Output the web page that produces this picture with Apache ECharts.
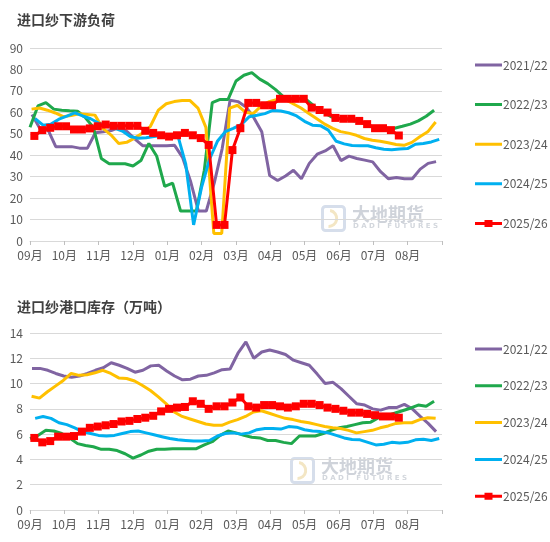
<!DOCTYPE html>
<html>
<head>
<meta charset="utf-8">
<script src="https://cdn.jsdelivr.net/npm/echarts@6/dist/echarts.min.js"></script>
<style>
  html, body { margin: 0; padding: 0; background: #fff; }
  #loadChart { position: absolute; left: 0; top: 0; width: 550px; height: 280px; }
  #stockChart { position: absolute; left: 0; top: 280px; width: 550px; height: 262px; }
</style>
</head>
<body>
<div id="loadChart"></div>
<div id="stockChart"></div>
<script>
// 季度名称与x轴月份标签
const seasons = ['2021/22', '2022/23', '2023/24', '2024/25', '2025/26'];
const monthLabels = ['09月', '10月', '11月', '12月', '01月', '02月', '03月', '04月', '05月', '06月', '07月', '08月'];
// 每个季度第一条周数据相对9月初的周数
const startWeek = [0.25, 0, 0.2, 0.65, 0.55];

// 进口纱下游负荷（周度）
const load2122 = [59, 52.5, 52, 44, 44, 44, 43.3, 43.3, 50.5, 50.9, 51.5, 53, 51, 47.5, 44.4, 44.4, 44.4, 44.4, 44.6, 39,
  28, 14, 14, 27, 43, 65.6, 65, 62.5, 57.5, 50.9, 30.5, 28.2, 30.3, 33, 29, 36.2, 40.5, 42, 44.4, 37.5,
  39.6, 38.5, 37.7, 36.9, 32.3, 29, 29.6, 29, 29, 33.5, 36.2, 37];
const load2223 = [53, 63, 64.5, 61.5, 61, 60.7, 60.5, 57.5, 53, 38.5, 36, 36, 36, 35, 37.5, 45.5, 39.5, 25.5, 27, 14,
  14, 14, 33, 64.5, 66, 66, 74.6, 77.3, 78.5, 75.5, 73.4, 70.6, 67.2, 66.3, 66.3, 65.6, 62.5, 60.2, 57.9, 57,
  56.6, 56, 55, 53.5, 52.5, 52.5, 52.6, 53.5, 54.5, 56, 58.2, 61];
const load2324 = [61.5, 62, 61, 59.7, 58, 58.5, 59.3, 59, 58.7, 52.5, 49.5, 45.5, 46, 48, 50.3, 53.5, 61, 64, 65, 65.5,
  65.5, 62, 53, 3.5, 3.5, 62, 63.3, 60, 59.5, 63, 65, 66, 66, 64, 62, 59.5, 57, 54.5, 52.5, 51,
  50.3, 49.3, 47.8, 47, 46.5, 45.8, 45, 44.6, 46, 48.6, 50.9, 55.5];
const load2425 = [57, 54, 54.5, 56.8, 58.2, 59.8, 58.3, 57, 55, 53.7, 52.7, 51.3, 48.7, 47.9, 48.1, 48.7, 49.2, 49.3, 49.3, 36,
  7.5, 25, 38, 46.5, 51, 52.5, 54.3, 57.9, 58.6, 59.4, 60.9, 60.6, 59.8, 58.3, 55.8, 54, 53.8, 51.7, 46.5, 45.3,
  44.5, 44.4, 44.4, 43.5, 42.8, 42.5, 42.9, 43.1, 45.1, 45.5, 46.2, 47.4];
const load2526 = [49, 51.7, 52.8, 53.5, 53.5, 52, 52, 52.5, 53.5, 54.3, 53.7, 53.7, 53.7, 53.7, 51.4, 50.4, 49.3, 48.7, 49.3, 50.4,
  49.3, 48, 44.8, 7.5, 7.5, 42.4, 52.6, 64.4, 64.4, 63.3, 63.3, 66.3, 66.3, 66.3, 66.3, 62.2, 61.1, 59.9, 57.4, 57,
  57, 56, 54.5, 52.6, 52.6, 51.7, 49.2];

// 进口纱港口库存（万吨，周度）
const stock2122 = [11.2, 11.2, 11.05, 10.8, 10.6, 10.5, 10.6, 10.8, 11.05, 11.25, 11.65, 11.45, 11.2, 10.9, 11.05, 11.4, 11.45, 11.0, 10.6, 10.3,
  10.35, 10.6, 10.65, 10.85, 11.1, 11.15, 12.4, 13.3, 12.0, 12.5, 12.65, 12.5, 12.3, 11.85, 11.65, 11.45, 10.75, 10.0, 10.1, 9.6,
  9.0, 8.4, 8.3, 8.0, 7.9, 8.1, 8.1, 8.35, 8.0, 7.4, 6.85, 6.2];
const stock2223 = [5.65, 5.9, 6.3, 6.25, 6.05, 5.7, 5.25, 5.1, 5.0, 4.8, 4.8, 4.7, 4.45, 4.1, 4.35, 4.65, 4.8, 4.8, 4.85, 4.85,
  4.85, 4.85, 5.15, 5.4, 5.9, 6.25, 6.1, 5.9, 5.75, 5.7, 5.5, 5.5, 5.35, 5.25, 5.85, 5.85, 5.85, 6.05, 6.3, 6.5,
  6.6, 6.75, 6.9, 6.95, 7.3, 7.45, 7.65, 7.85, 8.05, 8.3, 8.2, 8.6];
const stock2324 = [9.0, 8.85, 9.35, 9.8, 10.25, 10.8, 10.65, 10.7, 10.85, 11.05, 10.8, 10.45, 10.4, 10.2, 9.85, 9.45, 8.95, 8.4, 7.75, 7.4,
  7.2, 7.0, 6.8, 6.7, 6.7, 6.95, 7.15, 7.4, 7.75, 7.85, 7.65, 7.45, 7.25, 7.15, 7.0, 6.9, 6.75, 6.6, 6.5, 6.45,
  6.3, 6.1, 6.2, 6.3, 6.5, 6.65, 6.85, 6.9, 6.9, 7.15, 7.3, 7.25];
const stock2425 = [7.25, 7.4, 7.25, 6.9, 6.75, 6.5, 6.2, 6.05, 5.9, 5.85, 5.9, 6.05, 6.2, 6.25, 6.1, 5.95, 5.8, 5.65, 5.55, 5.5,
  5.45, 5.45, 5.5, 5.85, 6.05, 6.1, 6.0, 6.1, 6.35, 6.45, 6.45, 6.4, 6.6, 6.55, 6.35, 6.25, 6.2, 6.1, 5.9, 5.7,
  5.58, 5.55, 5.35, 5.15, 5.2, 5.35, 5.3, 5.35, 5.55, 5.6, 5.5, 5.65];
const stock2526 = [5.7, 5.35, 5.45, 5.8, 5.8, 5.85, 6.2, 6.5, 6.6, 6.7, 6.8, 7.0, 7.05, 7.2, 7.3, 7.45, 7.8, 8.0, 8.1, 8.15,
  8.6, 8.4, 8.0, 8.2, 8.2, 8.5, 8.9, 8.2, 8.1, 8.3, 8.3, 8.2, 8.1, 8.2, 8.4, 8.4, 8.3, 8.1, 8.0, 7.85,
  7.7, 7.7, 7.6, 7.5, 7.4, 7.4, 7.3];

const loadData = [load2122, load2223, load2324, load2425, load2526];
const stockData = [stock2122, stock2223, stock2324, stock2425, stock2526];

const colors = ['#8064A2', '#1FA84C', '#FFC000', '#00B0F0', '#FF0000'];
const FONT = 'Noto Sans CJK SC';
const WEEKS = 52;
// 图例图标：上下两个极小子路径用于撑开包围盒
const LINE_ICON = 'path://M0,0L0.01,0L0.01,0.01Z M0,5.5L27,5.5L27,8.5L0,8.5Z M0,14L0.01,14L0.01,13.99Z';
const MARK_ICON = 'path://M0,0L0.01,0L0.01,0.01Z M0,5.5L27,5.5L27,8.5L0,8.5Z M9.5,3.5L17.5,3.5L17.5,10.5L9.5,10.5Z M0,14L0.01,14L0.01,13.99Z';

// 水印
function watermark(x, y) {
    return [
        { type: 'rect', left: x, top: y, shape: { width: 22, height: 24, r: 3 },
          style: { fill: 'none', stroke: '#d6deeb', lineWidth: 3 }, silent: true },
        { type: 'arc', left: x + 6, top: y + 4, shape: { cx: 7, cy: 8, r: 8, startAngle: -1.4, endAngle: 1.6 },
          style: { fill: 'none', stroke: '#f3e6c4', lineWidth: 3 }, silent: true },
        { type: 'text', left: x + 32, top: y + 1,
          style: { text: '大地期货', fill: '#cfd3da', font: 'bold 18px "Noto Sans CJK SC"' }, silent: true },
        { type: 'text', left: x + 33, top: y + 19,
          style: { text: 'D A D I   F U T U R E S', fill: '#d3d7dd', font: 'bold 7px "DejaVu Sans"' }, silent: true }
    ];
}

function initSeasonChart(container, cfg) {
    const myChart = echarts.init(container);

    const series = seasons.map((name, k) => ({
        name: name,
        type: 'line',
        data: cfg.data[k].map((v, i) => [startWeek[k] + i, v]),
        symbol: k === 4 ? 'rect' : 'none',
        symbolSize: 8,
        showSymbol: k === 4,
        lineStyle: { width: 3, color: colors[k] },
        itemStyle: { color: colors[k] },
        z: 2 + k,
        animation: false
    }));

    const option = {
        title: {
            text: cfg.title,
            left: 12,
            top: cfg.titleTop,
            textStyle: { fontFamily: FONT, fontSize: 14, fontWeight: 'bold', color: '#404040' }
        },
        legend: {
            orient: 'vertical',
            left: 470,
            top: cfg.legendTop,
            itemWidth: 27,
            itemHeight: 14,
            itemGap: cfg.legendGap,
            textStyle: { fontFamily: FONT, fontSize: 12, color: '#595959', padding: [0, 0, 0, -4] },
            data: seasons.map((name, k) => ({ name: name, icon: k === 4 ? MARK_ICON : LINE_ICON }))
        },
        grid: {
            left: 30,
            right: 108,
            top: cfg.gridTop,
            height: cfg.gridHeight
        },
        xAxis: {
            type: 'value',
            min: 0,
            max: WEEKS,
            interval: WEEKS / 12,
            axisLine: { show: true, lineStyle: { color: '#d9d9d9' } },
            axisTick: { show: true, length: 4, lineStyle: { color: '#bfbfbf' } },
            splitLine: { show: false },
            axisLabel: {
                margin: 8,
                fontFamily: FONT,
                fontSize: 12,
                color: '#595959',
                formatter: (v) => {
                    const idx = Math.round(v / (WEEKS / 12));
                    return idx < 12 ? monthLabels[idx] : '';
                }
            }
        },
        yAxis: {
            type: 'value',
            min: 0,
            max: cfg.yMax,
            interval: cfg.yStep,
            axisLine: { show: false },
            axisTick: { show: false },
            splitLine: { lineStyle: { color: '#d9d9d9', width: 1 } },
            axisLabel: { margin: 7, fontFamily: FONT, fontSize: 12, color: '#595959' }
        },
        graphic: watermark(cfg.markX, cfg.markY),
        series: series
    };

    myChart.setOption(option);
    return myChart;
}

initSeasonChart(document.getElementById('loadChart'), {
    title: '进口纱下游负荷',
    titleTop: 8,
    data: loadData,
    yMax: 90,
    yStep: 10,
    gridTop: 48,
    gridHeight: 193,
    legendTop: 53,
    legendGap: 25.6,
    markX: 320,
    markY: 204
});

initSeasonChart(document.getElementById('stockChart'), {
    title: '进口纱港口库存（万吨）',
    titleTop: 15,
    data: stockData,
    yMax: 14,
    yStep: 2,
    gridTop: 53,
    gridHeight: 177,
    legendTop: 57,
    legendGap: 22.8,
    markX: 289,
    markY: 176
});
</script>
</body>
</html>
